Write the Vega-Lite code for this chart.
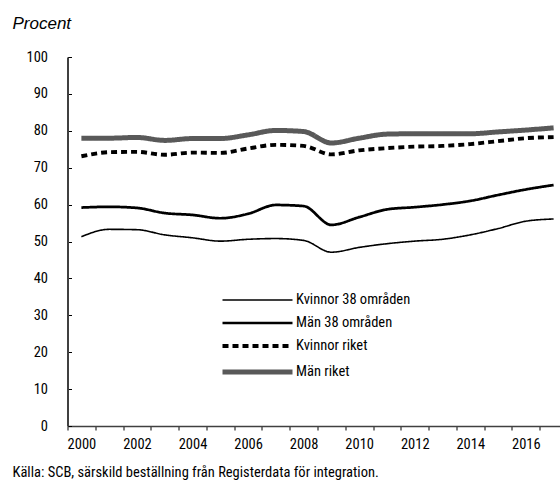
{
  "$schema": "https://vega.github.io/schema/vega-lite/v6.json",
  "width": 492.5,
  "height": 369,
  "autosize": "none",
  "padding": {"left": 67.5, "top": 57, "right": 0, "bottom": 58},
  "background": "white",
  "config": {
    "view": {"stroke": null},
    "font": "'Noto Sans Condensed', 'Roboto Condensed', 'DejaVu Sans Condensed', sans-serif"
  },
  "data": {
    "values": [
      {"year": 2000, "serie": "Kvinnor 38 områden", "value": 51.3},
      {"year": 2001, "serie": "Kvinnor 38 områden", "value": 53.3},
      {"year": 2002, "serie": "Kvinnor 38 områden", "value": 53.2},
      {"year": 2003, "serie": "Kvinnor 38 områden", "value": 51.8},
      {"year": 2004, "serie": "Kvinnor 38 områden", "value": 51.0},
      {"year": 2005, "serie": "Kvinnor 38 områden", "value": 50.1},
      {"year": 2006, "serie": "Kvinnor 38 områden", "value": 50.6},
      {"year": 2007, "serie": "Kvinnor 38 områden", "value": 50.8},
      {"year": 2008, "serie": "Kvinnor 38 områden", "value": 50.3},
      {"year": 2009, "serie": "Kvinnor 38 områden", "value": 47.1},
      {"year": 2010, "serie": "Kvinnor 38 områden", "value": 48.4},
      {"year": 2011, "serie": "Kvinnor 38 områden", "value": 49.4},
      {"year": 2012, "serie": "Kvinnor 38 områden", "value": 50.1},
      {"year": 2013, "serie": "Kvinnor 38 områden", "value": 50.6},
      {"year": 2014, "serie": "Kvinnor 38 områden", "value": 51.8},
      {"year": 2015, "serie": "Kvinnor 38 områden", "value": 53.5},
      {"year": 2016, "serie": "Kvinnor 38 områden", "value": 55.5},
      {"year": 2017, "serie": "Kvinnor 38 områden", "value": 56.1},
      {"year": 2000, "serie": "Män 38 områden", "value": 59.2},
      {"year": 2001, "serie": "Män 38 områden", "value": 59.4},
      {"year": 2002, "serie": "Män 38 områden", "value": 59.1},
      {"year": 2003, "serie": "Män 38 områden", "value": 57.7},
      {"year": 2004, "serie": "Män 38 områden", "value": 57.2},
      {"year": 2005, "serie": "Män 38 områden", "value": 56.3},
      {"year": 2006, "serie": "Män 38 områden", "value": 57.5},
      {"year": 2007, "serie": "Män 38 områden", "value": 59.9},
      {"year": 2008, "serie": "Män 38 områden", "value": 59.6},
      {"year": 2009, "serie": "Män 38 områden", "value": 54.5},
      {"year": 2010, "serie": "Män 38 områden", "value": 56.6},
      {"year": 2011, "serie": "Män 38 områden", "value": 58.7},
      {"year": 2012, "serie": "Män 38 områden", "value": 59.3},
      {"year": 2013, "serie": "Män 38 områden", "value": 60.0},
      {"year": 2014, "serie": "Män 38 områden", "value": 61.0},
      {"year": 2015, "serie": "Män 38 områden", "value": 62.6},
      {"year": 2016, "serie": "Män 38 områden", "value": 64.1},
      {"year": 2017, "serie": "Män 38 områden", "value": 65.3},
      {"year": 2000, "serie": "Kvinnor riket", "value": 73.1},
      {"year": 2001, "serie": "Kvinnor riket", "value": 74.2},
      {"year": 2002, "serie": "Kvinnor riket", "value": 74.3},
      {"year": 2003, "serie": "Kvinnor riket", "value": 73.5},
      {"year": 2004, "serie": "Kvinnor riket", "value": 74.1},
      {"year": 2005, "serie": "Kvinnor riket", "value": 74.0},
      {"year": 2006, "serie": "Kvinnor riket", "value": 75.2},
      {"year": 2007, "serie": "Kvinnor riket", "value": 76.2},
      {"year": 2008, "serie": "Kvinnor riket", "value": 75.9},
      {"year": 2009, "serie": "Kvinnor riket", "value": 73.6},
      {"year": 2010, "serie": "Kvinnor riket", "value": 74.7},
      {"year": 2011, "serie": "Kvinnor riket", "value": 75.3},
      {"year": 2012, "serie": "Kvinnor riket", "value": 75.7},
      {"year": 2013, "serie": "Kvinnor riket", "value": 75.9},
      {"year": 2014, "serie": "Kvinnor riket", "value": 76.4},
      {"year": 2015, "serie": "Kvinnor riket", "value": 77.2},
      {"year": 2016, "serie": "Kvinnor riket", "value": 78.0},
      {"year": 2017, "serie": "Kvinnor riket", "value": 78.3},
      {"year": 2000, "serie": "Män riket", "value": 78.0},
      {"year": 2001, "serie": "Män riket", "value": 78.0},
      {"year": 2002, "serie": "Män riket", "value": 78.2},
      {"year": 2003, "serie": "Män riket", "value": 77.4},
      {"year": 2004, "serie": "Män riket", "value": 77.9},
      {"year": 2005, "serie": "Män riket", "value": 77.9},
      {"year": 2006, "serie": "Män riket", "value": 78.9},
      {"year": 2007, "serie": "Män riket", "value": 80.1},
      {"year": 2008, "serie": "Män riket", "value": 79.8},
      {"year": 2009, "serie": "Män riket", "value": 76.7},
      {"year": 2010, "serie": "Män riket", "value": 78.0},
      {"year": 2011, "serie": "Män riket", "value": 79.1},
      {"year": 2012, "serie": "Män riket", "value": 79.2},
      {"year": 2013, "serie": "Män riket", "value": 79.2},
      {"year": 2014, "serie": "Män riket", "value": 79.2},
      {"year": 2015, "serie": "Män riket", "value": 79.7},
      {"year": 2016, "serie": "Män riket", "value": 80.2},
      {"year": 2017, "serie": "Män riket", "value": 80.8}
    ]
  },
  "mark": {"type": "line", "interpolate": "monotone"},
  "encoding": {
    "x": {
      "field": "year",
      "type": "ordinal",
      "bandPosition": 0.5,
      "scale": {"type": "band", "paddingInner": 0, "paddingOuter": 0, "range": [0, 500]},
      "axis": {
        "title": "Källa: SCB, särskild beställning från Registerdata för integration.",
        "titleFontSize": 14.5,
        "titleFontWeight": "normal",
        "titleColor": "black",
        "titleAnchor": "start",
        "titleAlign": "left",
        "titleBaseline": "alphabetic",
        "titleX": -55.5,
        "titleY": 50,
        "labelAngle": 0,
        "labelExpr": "datum.value % 2 == 0 ? datum.label : ''",
        "labelFontSize": 14.5,
        "labelColor": "black",
        "labelPadding": 7,
        "tickBand": "extent",
        "tickSize": 4,
        "tickColor": "black",
        "domainColor": "#404040",
        "domainWidth": 1.5,
        "grid": false
      }
    },
    "y": {
      "field": "value",
      "type": "quantitative",
      "scale": {"domain": [0, 100]},
      "axis": {
        "title": "Procent",
        "titleFont": "Liberation Sans, Arial, sans-serif",
        "titleFontStyle": "italic",
        "titleFontWeight": "normal",
        "titleFontSize": 17,
        "titleColor": "black",
        "titleAngle": 0,
        "titleAlign": "left",
        "titleBaseline": "alphabetic",
        "titleX": -55.5,
        "titleY": -29,
        "values": [0, 10, 20, 30, 40, 50, 60, 70, 80, 90, 100],
        "labelFontSize": 14.5,
        "labelColor": "black",
        "labelPadding": 24,
        "tickSize": -4,
        "tickColor": "black",
        "domainColor": "#404040",
        "domainWidth": 2,
        "grid": false
      }
    },
    "color": {
      "field": "serie",
      "type": "nominal",
      "scale": {
        "domain": ["Kvinnor 38 områden", "Män 38 områden", "Kvinnor riket", "Män riket"],
        "range": ["#000000", "#000000", "#000000", "#595959"]
      },
      "legend": {
        "title": null,
        "orient": "none",
        "legendX": 180.5,
        "legendY": 235,
        "symbolType": "M-5,0H5",
        "symbolSize": 196,
        "labelFontSize": 14.5,
        "labelColor": "black",
        "labelOffset": 29,
        "rowPadding": 7.5
      }
    },
    "strokeWidth": {
      "field": "serie",
      "type": "nominal",
      "scale": {
        "domain": ["Kvinnor 38 områden", "Män 38 områden", "Kvinnor riket", "Män riket"],
        "range": [1.6, 5, 2, 5]
      },
      "legend": null
    },
    "strokeDash": {
      "field": "serie",
      "type": "nominal",
      "scale": {
        "domain": ["Kvinnor 38 områden", "Män 38 områden", "Kvinnor riket", "Män riket"],
        "range": [[1, 0], [1, 0], [6, 4], [1, 0]]
      },
      "legend": null
    }
  }
}
